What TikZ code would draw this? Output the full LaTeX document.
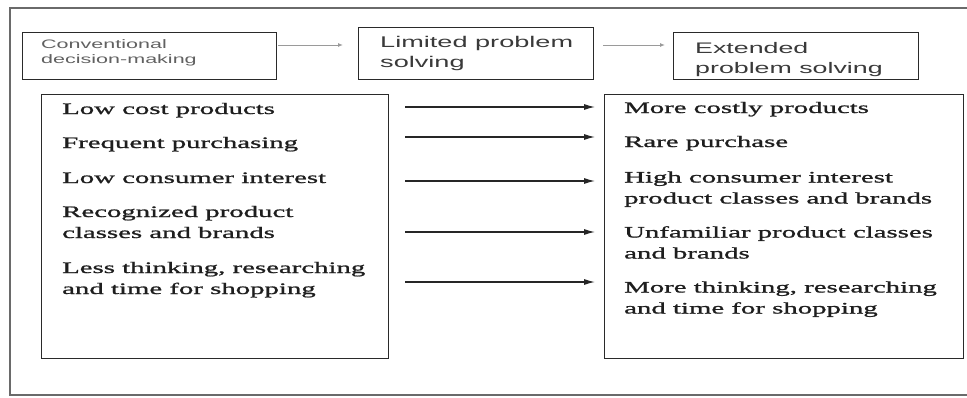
\documentclass[tikz,border=0pt]{standalone}
\usepackage{fontspec}
\setmainfont{Liberation Serif}[FakeStretch=1.8, FakeBold=1.2]
\newfontfamily\hdrfont{Liberation Sans}[FakeStretch=1.75]
\usetikzlibrary{arrows.meta}
\definecolor{framecol}{HTML}{2A2A2A}
\definecolor{hdrtext}{HTML}{3A3A3A}
\definecolor{bodytext}{HTML}{1E1E1E}
\definecolor{hdrarrowcol}{HTML}{9A9A9A}
\tikzset{
  panel/.style={draw=framecol, line width=1.4pt, anchor=north west, inner sep=0pt},
  hdrlabel/.style={anchor=base west, inner sep=0pt, text=hdrtext, align=left},
  item/.style={anchor=base west, inner sep=0pt, text=bodytext, align=left,
    font=\fontsize{16}{21}\selectfont},
  hdrarrow/.style={draw=hdrarrowcol, line width=1pt, -{Latex[length=5pt,width=4pt]}},
  bodyarrow/.style={draw=black!85, line width=1.2pt, -{Latex[length=11pt,width=6pt]}},
}
\begin{document}
\begin{tikzpicture}[x=1pt,y=-1pt]
\useasboundingbox (0,0) rectangle (967,397);
% outer frame (open on the right)
\draw[framecol!70, line width=1.2pt] (967,8) -- (10,8) -- (10,395) -- (967,395);

% header boxes
\node[panel, minimum width=254pt, minimum height=47pt] (conv) at (22,32) {};
\node[panel, minimum width=235pt, minimum height=52pt] (lim) at (358,27) {};
\node[panel, minimum width=245pt, minimum height=47pt] (ext) at (673,32) {};
% multi-line labels: the base anchor sits on the last line
\node[hdrlabel, font=\hdrfont\fontsize{12.3}{14.5}\selectfont, text=hdrtext!80] (convtxt) at (41,63)
  {Conventional\\decision-making};
\node[hdrlabel, font=\hdrfont\fontsize{15.5}{20}\selectfont] (limtxt) at (380,67)
  {Limited problem\\solving};
\node[hdrlabel, font=\hdrfont\fontsize{15.3}{20}\selectfont] (exttxt) at (695,73)
  {Extended\\problem solving};

% header arrows
\coordinate (h1) at (278,45);
\coordinate (h2) at (603,45);
\draw[hdrarrow, shorten >=15pt] (h1) -- (h1 -| lim.west);
\draw[hdrarrow, shorten >=8pt] (h2) -- (h2 -| ext.west);

% comparison panels
\node[panel, minimum width=347pt, minimum height=264pt] (lbox) at (41,94) {};
\node[panel, minimum width=359pt, minimum height=264pt] (rbox) at (604,94) {};

% left column
\node[item] (l1) at (62,114) {Low cost products};
\node[item] (l2) at (62,148) {Frequent purchasing};
\node[item] (l3) at (62,183) {Low consumer interest};
\node[item] (l4) at (62,238) {Recognized product\\classes and brands};
\node[item] (l5) at (62,294) {Less thinking, researching\\and time for shopping};

% right column
\node[item] (r1) at (624,113) {More costly products};
\node[item] (r2) at (624,147) {Rare purchase};
\node[item] (r3) at (624,203.5) {High consumer interest\\product classes and brands};
\node[item] (r4) at (624,258.5) {Unfamiliar product classes\\and brands};
\node[item] (r5) at (624,313.5) {More thinking, researching\\and time for shopping};

% connecting arrows
\foreach \n/\y in {1/107, 2/137, 3/181, 4/232, 5/282} {
  \coordinate (a\n) at (405,\y);
  \draw[bodyarrow, shorten >=9pt] (a\n) -- (a\n -| rbox.west);
}
\end{tikzpicture}
\end{document}
